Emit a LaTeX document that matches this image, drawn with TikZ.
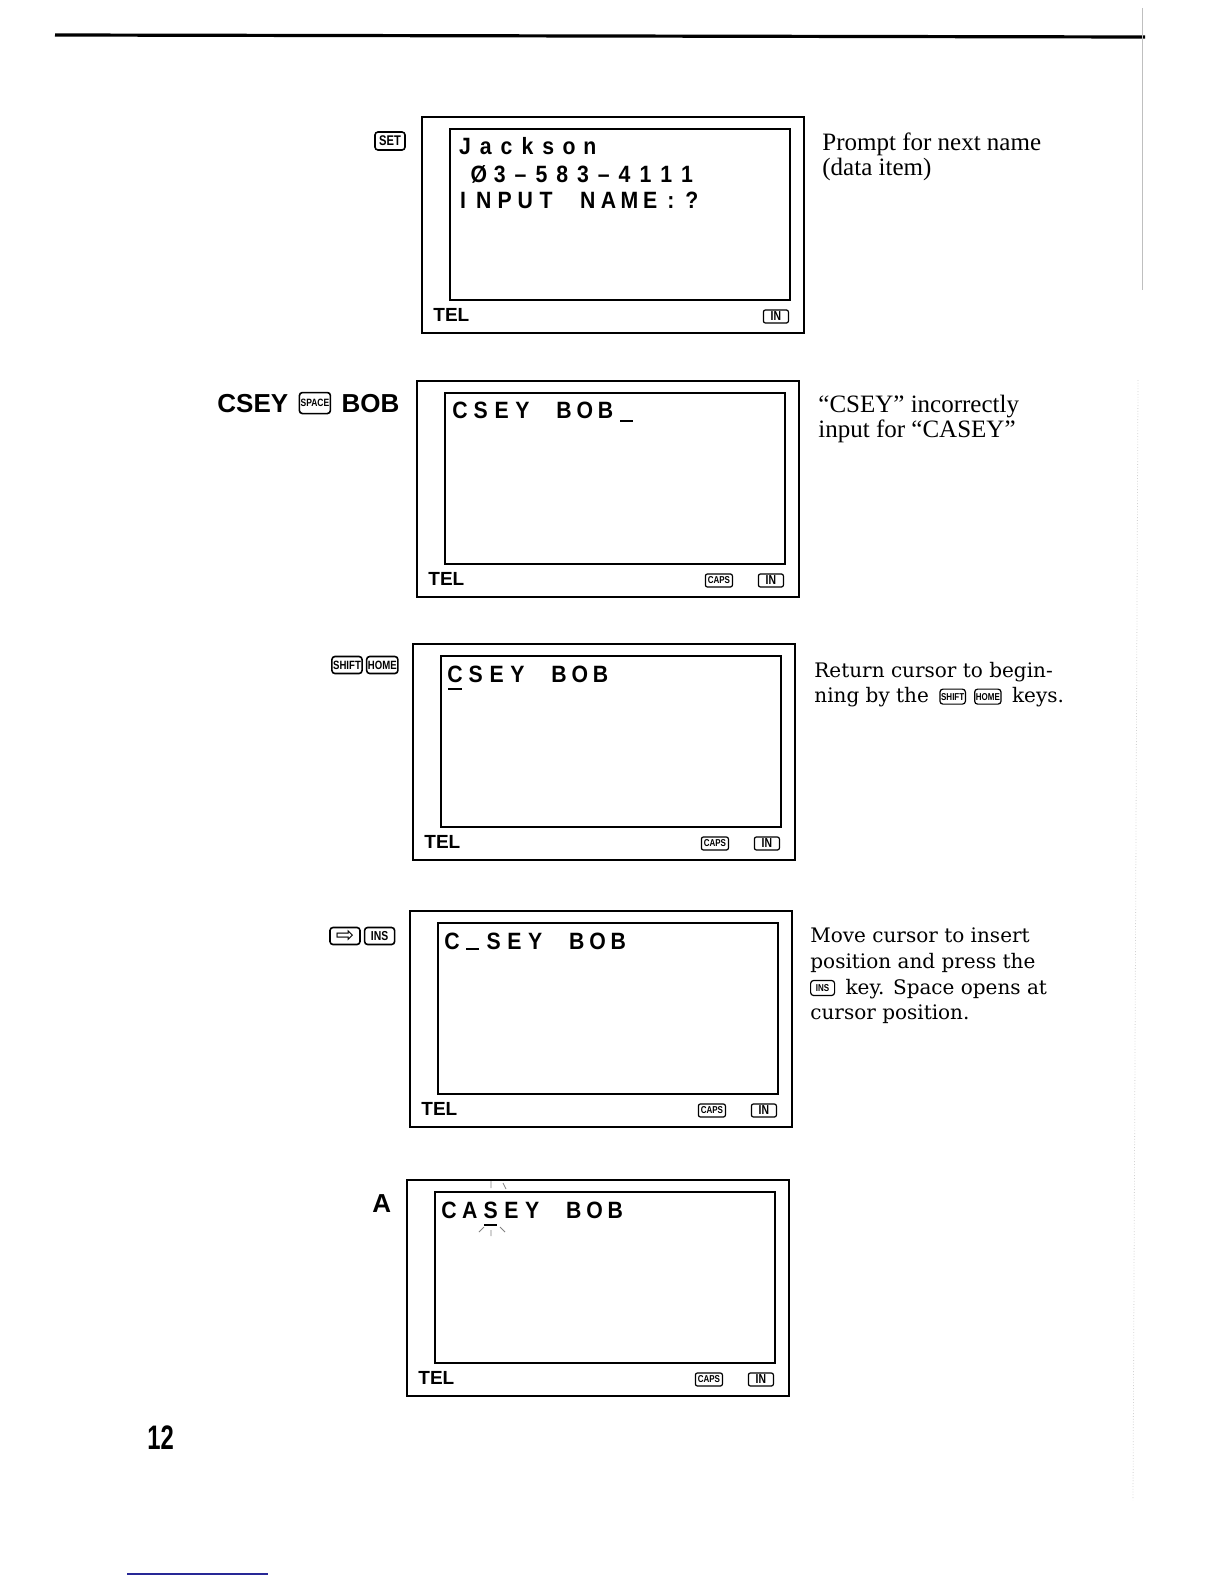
\documentclass[tikz,border=0pt]{standalone}
\usepackage{fontspec}
\setmainfont{Liberation Serif}
\newfontfamily\lcdfont[FakeStretch=0.9]{Liberation Sans}
\newfontfamily\keyfont[FakeStretch=0.8]{Liberation Sans}
\newfontfamily\labelfont{Liberation Sans}
\newfontfamily\notefont{DejaVu Serif}
\newfontfamily\symfont{DejaVu Sans}
\newfontfamily\pagefont[FakeStretch=0.7]{Liberation Sans}
\usetikzlibrary{positioning}
\definecolor{rulenavy}{RGB}{40,40,150}

\tikzset{
  lcdchar/.style={anchor=base, inner sep=0, font=\lcdfont\bfseries\fontsize{11.8}{12}\selectfont},
  keycap/.style={draw, line width=.8pt, rounded corners=1.5pt, inner sep=.6pt, minimum width=15pt, minimum height=8.5pt, font=\keyfont\bfseries\fontsize{6}{6}\selectfont},
  smallkey/.style={keycap, line width=.6pt, minimum width=12pt, minimum height=7.5pt, font=\keyfont\bfseries\fontsize{5}{5}\selectfont},
  flag/.style={draw, line width=.6pt, rounded corners=1pt, inner sep=.5pt, minimum height=6.5pt, font=\keyfont\bfseries\fontsize{6.5}{6.5}\selectfont},
  tel/.style={anchor=base west, inner sep=0, font=\labelfont\bfseries\fontsize{9.5}{10}\selectfont},
  keyseq/.style={anchor=base west, inner sep=0, font=\labelfont\bfseries\fontsize{13}{14}\selectfont},
  note/.style={anchor=base west, inner sep=0, font=\fontsize{12.5}{12.5}\selectfont},
  note2/.style={anchor=base west, inner sep=0, font=\notefont\fontsize{10}{12}\selectfont},
  cursor/.style={line width=1.2pt},
}

% one LCD panel: name, x, y of top left corner, 1 if CAPS is lit
\newcommand{\lcdscreen}[4]{%
  \draw[line width=.6pt] (#2,#3) rectangle ++(382,216);
  \draw[line width=.8pt] (#2+28,#3+12) rectangle (#2+368,#3+183);
  \node[tel] (#1tel) at (#2+11,#3+204) {TEL};
  \node[flag, minimum width=12.5pt, anchor=east] (#1in) at (#2+367,#3+199.5) {IN};
  \ifnum#4=1
    \node[flag, minimum width=13.5pt, font=\keyfont\bfseries\fontsize{5}{5}\selectfont, anchor=east] (#1caps) at (#2+316,#3+199.5) {CAPS};
  \fi
}
% one row of characters on the LCD grid
\newcommand{\lcdrow}[4]{%
  \foreach \c [count=\i from 0] in {#4}
    \node[lcdchar] (#1\i) at (#2+7+\i*20.8,#3) {\c};
}

\begin{document}
\begin{tikzpicture}[x=0.5pt, y=-0.5pt]
  \useasboundingbox (0,0) rectangle (1224,1584);
  \draw[line width=1.6pt] (55,35) -- (1145,37);
  \draw[gray!50, line width=.4pt] (1142,8) -- (1142,290);
  \draw[gray!35, line width=.4pt, densely dotted] (1138,380) -- (1133,1500);

  % SET
  \node[keycap, minimum height=9pt, font=\keyfont\bfseries\fontsize{7}{7}\selectfont] (setkey) at (390,141) {SET};
  \lcdscreen{s1}{422}{117}{0}
  \lcdrow{s1a}{458}{155}{J,a,c,k,s,o,n}
  \lcdrow{s1b}{472}{183}{Ø,3,–,5,8,3,–,4,1,1,1}
  \lcdrow{s1c}{456}{208}{I,N,P,U,T,,N,A,M,E,:,?}
  \node[note] (n1a) at (822,150) {Prompt for next name};
  \node[note] (n1b) at (822,175) {(data item)};

  % CSEY SPACE BOB
  \node[keyseq] (csey) at (217,412) {CSEY};
  \node[keycap, minimum height=10.5pt, anchor=west, xshift=5pt, font=\keyfont\bfseries\fontsize{5.3}{5.3}\selectfont] (spacekey) at (csey.east) {SPACE};
  \node[keyseq, xshift=5pt] (bob) at (spacekey.east |- csey.base) {BOB};
  \lcdscreen{s2}{417}{381}{1}
  \lcdrow{s2a}{453}{418}{C,S,E,Y,,B,O,B}
  \draw[line width=1pt] (620,421) -- (633,421);
  \node[note] (n2a) at (818,412) {“CSEY” incorrectly};
  \node[note] (n2b) at (818,437) {input for “CASEY”};

  % SHIFT HOME
  \node[keycap] (shiftkey) at (347,665) {SHIFT};
  \node[keycap, right=1.5pt of shiftkey] (homekey) {HOME};
  \lcdscreen{s3}{413}{644}{1}
  \lcdrow{s3a}{448}{682}{C,S,E,Y,,B,O,B}
  \draw[cursor] (448,689) -- (462,689);
  \node[note2] (n3a) at (814,677) {Return cursor to begin-};
  \node[note2] (n3b) at (814,702) {ning by the};
  \node[smallkey, right=5pt of n3b] (n3shift) {SHIFT};
  \node[smallkey, right=4pt of n3shift] (n3home) {HOME};
  \node[note2, xshift=5pt] (n3c) at (n3home.east |- n3b.base) {keys.};

  % right arrow, INS
  \node[keycap, inner sep=0pt, font=\symfont\fontsize{11}{11}\selectfont] (rightkey) at (345,936) {⇨};
  \node[keycap, right=1.5pt of rightkey, font=\keyfont\bfseries\fontsize{6.5}{6.5}\selectfont] (inskey) {INS};
  \lcdscreen{s4}{410}{911}{1}
  \lcdrow{s4a}{445}{949}{C,,S,E,Y,,B,O,B}
  \draw[cursor] (466,949) -- (479,949);
  \node[note2] (n4a) at (810,942) {Move cursor to insert};
  \node[note2] (n4b) at (810,968) {position and press the};
  \node[smallkey, anchor=west] (n4ins) at (810,988) {INS};
  \node[note2, xshift=5pt] (n4c) at (n4ins.east |- 0,994) {key. Space opens at};
  \node[note2] (n4d) at (810,1019) {cursor position.};

  % A
  \node[keyseq] (akey) at (372,1212) {A};
  \lcdscreen{s5}{407}{1180}{1}
  \lcdrow{s5a}{442}{1218}{C,A,S,E,Y,,B,O,B}
  \draw[cursor] (484,1225) -- (497,1225);
  \draw[gray, line width=.4pt] (491,1181) -- (491,1188) (503,1183) -- (506,1189)
    (479,1232) -- (484,1227) (500,1227) -- (505,1232) (491,1230) -- (491,1236);

  % page number
  \node[anchor=base west, inner sep=0, font=\pagefont\bfseries\fontsize{17}{17}\selectfont] (pageno) at (147,1449) {12};
  \draw[rulenavy, line width=.6pt] (127,1574) -- (268,1574);
\end{tikzpicture}
\end{document}
